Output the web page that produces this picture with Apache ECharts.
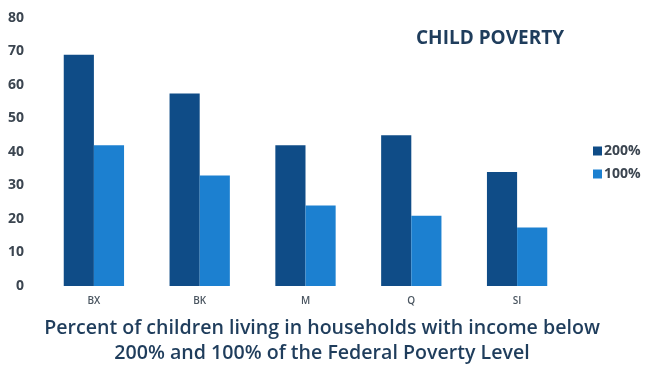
<!DOCTYPE html>
<html>
<head>
<meta charset="utf-8">
<script src="https://cdn.jsdelivr.net/npm/echarts@6/dist/echarts.min.js"></script>
<style>
html,body{margin:0;padding:0;background:#fff;}
#c{width:647px;height:369px;}
</style>
</head>
<body>
<div id="c"></div>
<script>
var categories = ['BX', 'BK', 'M', 'Q', 'SI'];
var seriesNames = ['200%', '100%'];
var values200 = [69, 57.5, 42, 45, 34];
var values100 = [42, 33, 24, 21, 17.5];
var yTicks = [0, 10, 20, 30, 40, 50, 60, 70, 80];

var chart = echarts.init(document.getElementById('c'));
chart.setOption({
  backgroundColor: '#ffffff',
  animation: false,
  title: [{
    text: 'CHILD POVERTY',
    left: 411, top: 24,
    textStyle: {fontFamily: 'Open Sans', fontWeight: 700, fontSize: 19, color: '#1f3d5c'}
  }, {
    text: 'Percent of children living in households with income below\n200% and 100% of the Federal Poverty Level',
    left: 317, top: 311,
    textAlign: 'center',
    textStyle: {fontFamily: 'Open Sans', fontWeight: 600, fontSize: 19.6, lineHeight: 25, color: '#1f3d5c', align: 'center'}
  }],
  legend: {
    data: seriesNames,
    orient: 'vertical',
    left: 588, top: 139,
    itemWidth: 9, itemHeight: 9, itemGap: 9,
    icon: 'rect',
    textStyle: {fontFamily: 'Open Sans', fontWeight: 700, fontSize: 14, color: '#3b4550', padding: [0,0,0,-3]}
  },
  grid: {left: 41, right: 77, top: 18, bottom: 83},
  xAxis: {
    type: 'category',
    data: categories,
    axisLine: {show: false},
    axisTick: {show: false},
    axisLabel: {fontFamily: 'Open Sans', fontWeight: 600, fontSize: 10, color: '#4a5560', margin: 10}
  },
  yAxis: {
    type: 'value',
    min: yTicks[0], max: yTicks[yTicks.length - 1], interval: 10,
    splitLine: {show: false},
    axisLine: {show: false},
    axisTick: {show: false},
    axisLabel: {fontFamily: 'Open Sans', fontWeight: 700, fontSize: 14, color: '#3b4550', margin: 17}
  },
  series: [{
    name: seriesNames[0], type: 'bar', data: values200,
    itemStyle: {color: '#0f4c87'},
    barGap: '0%', barCategoryGap: '43%'
  }, {
    name: seriesNames[1], type: 'bar', data: values100,
    itemStyle: {color: '#1c80d0'},
    barGap: '0%', barCategoryGap: '43%'
  }]
});
</script>
</body>
</html>
